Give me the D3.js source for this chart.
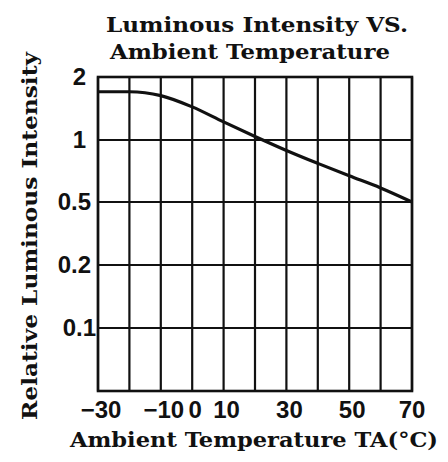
<!doctype html>
<html>
  <head>
    <meta charset="utf-8">
    <title>Luminous Intensity vs. Ambient Temperature</title>
    <script src="https://cdn.jsdelivr.net/npm/d3@7"></script>
    <style>
      body { margin: 0; background: #fff; }
      svg { display: block; }
      .title, .axis-title { font-family: "DejaVu Serif", serif; font-weight: bold; font-size: 21px; fill: #111; }
      .tick-label { font-family: "Liberation Sans", Arial, sans-serif; font-weight: bold; font-size: 24px; fill: #111; }
    </style>
  </head>
  <body>
    <svg id="chart" width="448" height="462"></svg>
<script>
// data
var temps = [-30, -20, -10, 0, 10, 20, 30, 40, 50, 60, 70];
var intensity = [1.70, 1.70, 1.63, 1.44, 1.22, 1.04, 0.89, 0.77, 0.67, 0.585, 0.50];
var xTicks = [-30, -10, 0, 10, 30, 50, 70];
var xGrid = [-30, -20, -10, 0, 10, 20, 30, 40, 50, 60, 70];
var yLevels = [2, 1, 0.5, 0.2, 0.1, 0.05];
var yLabels = ['2', '1', '0.5', '0.2', '0.1', ''];

var svg = d3.select('#chart');

var x = d3.scaleLinear().domain([-30, 70]).range([98, 412]);
// levels are drawn evenly spaced, log within each step
var y = d3.scaleLog().domain(yLevels).range([77, 140, 202, 265, 328, 391]);

// grid
svg.append('g').selectAll('line.v')
  .data(xGrid)
  .enter().append('line')
    .attr('x1', d => x(d)).attr('x2', d => x(d))
    .attr('y1', y(2)).attr('y2', y(0.05))
    .attr('stroke', '#111').attr('stroke-width', 2.2);

svg.append('g').selectAll('line.h')
  .data(yLevels)
  .enter().append('line')
    .attr('x1', x(-30)).attr('x2', x(70))
    .attr('y1', d => y(d)).attr('y2', d => y(d))
    .attr('stroke', '#111').attr('stroke-width', 2.2);

svg.append('rect')
  .attr('x', x(-30)).attr('y', y(2))
  .attr('width', x(70) - x(-30)).attr('height', y(0.05) - y(2))
  .attr('fill', 'none').attr('stroke', '#111').attr('stroke-width', 2.6);

// curve
var line = d3.line()
  .x((d, i) => x(temps[i]))
  .y(d => y(d))
  .curve(d3.curveMonotoneX);

svg.append('path')
  .datum(intensity)
  .attr('d', line)
  .attr('fill', 'none')
  .attr('stroke', '#111')
  .attr('stroke-width', 3.2);

// tick labels
svg.append('g').selectAll('text')
  .data(xTicks)
  .enter().append('text')
    .attr('class', 'tick-label')
    .attr('x', d => x(d) + (d === 70 ? 0 : 3))
    .attr('y', 418)
    .attr('text-anchor', 'middle')
    .text(d => d < 0 ? '\u2212' + Math.abs(d) : d);

svg.append('g').selectAll('text')
  .data(yLevels)
  .enter().append('text')
    .attr('class', 'tick-label')
    .attr('x', (d, i) => i === 4 ? 96 : (i < 2 ? 86 : 91))
    .attr('y', d => y(d) + 8)
    .attr('text-anchor', 'end')
    .text((d, i) => yLabels[i]);

// titles
svg.append('text').attr('class', 'title')
  .attr('x', 106).attr('y', 32)
  .attr('textLength', 302).attr('lengthAdjust', 'spacingAndGlyphs')
  .text('Luminous Intensity VS.');
svg.append('text').attr('class', 'title')
  .attr('x', 110).attr('y', 59)
  .attr('textLength', 280).attr('lengthAdjust', 'spacingAndGlyphs')
  .text('Ambient Temperature');

svg.append('text').attr('class', 'axis-title')
  .attr('x', 70).attr('y', 447)
  .attr('textLength', 368).attr('lengthAdjust', 'spacingAndGlyphs')
  .text('Ambient Temperature TA(\u00B0C)');

svg.append('text').attr('class', 'axis-title')
  .attr('transform', 'translate(37,420) rotate(-90)')
  .attr('textLength', 368).attr('lengthAdjust', 'spacingAndGlyphs')
  .text('Relative Luminous Intensity');
</script>
  </body>
</html>
